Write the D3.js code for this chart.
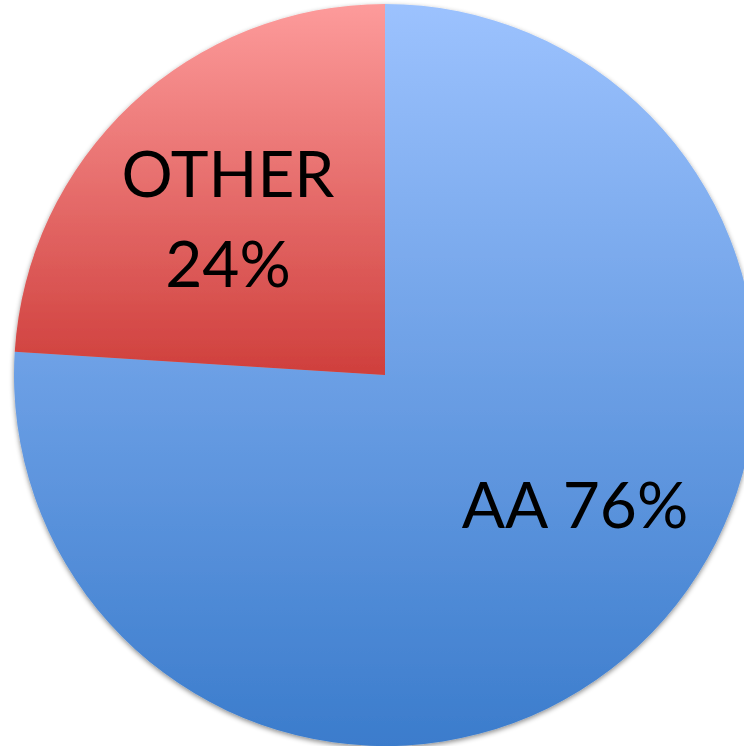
<!DOCTYPE html>
<html><head><meta charset="utf-8">
<script src="https://cdn.jsdelivr.net/npm/d3@7"></script>
<style>html,body{margin:0;padding:0;background:#fff;overflow:hidden}svg{display:block}</style>
</head><body>
<svg id="chart" width="744" height="746"></svg>
<script>
const categories = ["AA", "OTHER"];
const values = [76, 24];
const labelLines = [["AA 76%"], ["OTHER", "24%"]];

const W = 744, H = 746, cx = 385, cy = 375, R = 371;
const svg = d3.select("#chart");
const defs = svg.append("defs");

const gradStops = {
  AA: ["#9cc2fe", "#3b7ccc"],
  OTHER: ["#fd9b9b", "#cf3f3c"]
};
const blue = defs.append("linearGradient").attr("id", "g-AA")
  .attr("gradientUnits", "userSpaceOnUse").attr("x1", 0).attr("x2", 0)
  .attr("y1", -R).attr("y2", R);
blue.append("stop").attr("offset", 0).attr("stop-color", gradStops.AA[0]);
blue.append("stop").attr("offset", 1).attr("stop-color", gradStops.AA[1]);
const red = defs.append("linearGradient").attr("id", "g-OTHER")
  .attr("gradientUnits", "userSpaceOnUse").attr("x1", 0).attr("x2", 0)
  .attr("y1", -R).attr("y2", 0);
red.append("stop").attr("offset", 0).attr("stop-color", gradStops.OTHER[0]);
red.append("stop").attr("offset", 1).attr("stop-color", gradStops.OTHER[1]);

const f = defs.append("filter").attr("id", "sh").attr("x", "-10%").attr("y", "-10%").attr("width", "120%").attr("height", "120%");
f.append("feDropShadow").attr("dx", 0).attr("dy", 2).attr("stdDeviation", 2.5).attr("flood-color", "#000").attr("flood-opacity", 0.45);

const pie = d3.pie().sort(null).value(d => d.v);
const arc = d3.arc().innerRadius(0).outerRadius(R);
const data = categories.map((c, i) => ({ c, v: values[i] }));

const g = svg.append("g").attr("transform", `translate(${cx},${cy})`);
g.append("g").attr("filter", "url(#sh)")
  .selectAll("path").data(pie(data)).join("path")
  .attr("d", arc)
  .attr("fill", d => `url(#g-${d.data.c})`);

const labelPos = { AA: [575, 528], OTHER: [228, 197] };
const lineGap = 90;
const lab = svg.append("g").attr("font-family", "Lato, 'Open Sans', sans-serif")
  .attr("font-size", 64).attr("fill", "#000").attr("text-anchor", "middle");
categories.forEach((c, i) => {
  labelLines[i].forEach((t, j) => {
    lab.append("text").attr("x", labelPos[c][0]).attr("y", labelPos[c][1] + j * lineGap).text(t);
  });
});
</script>
</body></html>
